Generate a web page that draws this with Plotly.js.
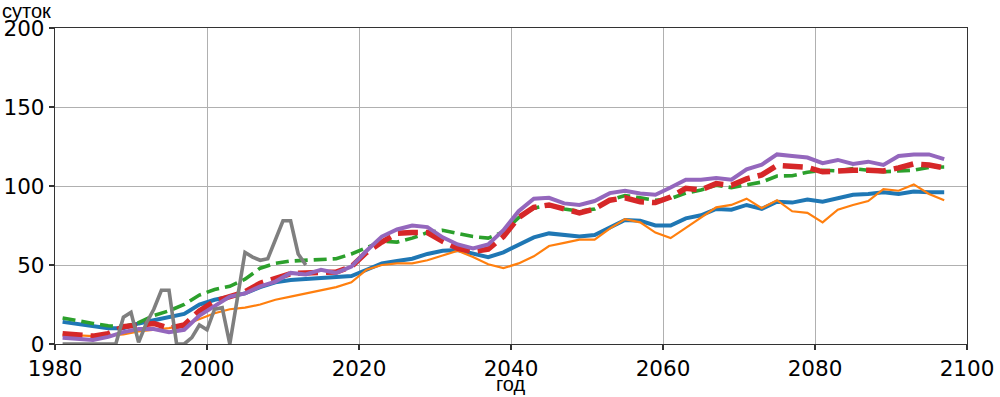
<!DOCTYPE html>
<html>
<head>
<meta charset="utf-8">
<script src="https://cdn.plot.ly/plotly-3.0.1.min.js"></script>
<style>
html,body{margin:0;padding:0;background:#fff;}
#chart{width:1000px;height:397px;}
</style>
</head>
<body>
<div id="chart"></div>
<script>
// Observed series (gray)
const obsYears = [1981,1982,1983,1984,1985,1986,1987,1988,1989,1990,1991,1992,1993,1994,1995,1996,1997,1998,1999,2000,2001,2002,2003,2004,2005,2006,2007,2008,2009,2010,2011,2012,2013];
const obsValues = [0,0,0,0,0,0,0,0,17,20,1,13,22,34,34,0,0,4,12,9,22,23,0,29,58,55,53,54,66,78,78,57,50];

// Model years (every second year)
const modelYears = [1981,1983,1985,1987,1989,1991,1993,1995,1997,1999,2001,2003,2005,2007,2009,2011,2013,2015,2017,2019,2021,2023,2025,2027,2029,2031,2033,2035,2037,2039,2041,2043,2045,2047,2049,2051,2053,2055,2057,2059,2061,2063,2065,2067,2069,2071,2073,2075,2077,2079,2081,2083,2085,2087,2089,2091,2093,2095,2097];

const blueValues = [14,12.5,11,10,10,13,15,17,19,25,28,30,32,36,39,40.5,41,42,42.5,43,47,51,52.5,54,57,59,59.5,57,55,58,63,67.5,70,69,68,69,74,78.5,78,75,75,79.5,81.5,85.5,85,88,85.5,90,89.5,91.5,90,92,94.5,95,96,95,96.5,96,96];
const orangeValues = [6,5.5,5,5.5,6,8,9,10,12,15.5,19.5,22,23,25,28,30,32,34,36,39,47,50,51,51,53,56,59,55,50.5,48,51,55.5,62,64,66,66,73,79,77,70.5,67,73.5,80,86.5,88,92,86,91,84,83,77,85,88,90.5,98,97,101,95,91];
const greenValues = [16.5,14.5,13,11.5,11,13.5,18,21,25,31,34.5,36.5,41,48,51,52.5,53,53.5,54,57,61,65,64.5,67,70.5,72,70,68,67,71,80,86,88,85.5,84,85.5,91,94,92.5,91,92,95.5,97.5,100.5,99,101,102.5,106.3,106.5,108.7,110,109.5,111,110,109,109.5,110,111.8,112];
const redValues = [6.5,5.5,5,6.5,11,12,13,10,12,21,27,30,33,38.5,41.5,44.5,45,45.5,45.5,49,58,64.5,70,70.5,70.5,65,60.5,58.5,60,68,80,86.5,88,85.5,83,85.5,91,92.5,90,89.5,93,98.5,97.5,101.5,100.5,104.5,107,113,112.8,111.8,109,109.8,110,110,109.5,111.5,114,113.3,111.5];
const purpleValues = [4,3,2.5,4.5,7.5,9.5,9.5,7.5,9,18,24,30,32,36.5,39.5,45,44,47,45,49,59,68,72.5,75,74,67.5,63,60.5,63,72,84,92,92.5,89,88,90.5,95.5,97,95.3,94.5,99,104,104,105,104,110.5,113.5,120,119,118,114.5,116.5,114,115.4,113.3,119,120,120,117];

const xTicks = [1980,2000,2020,2040,2060,2080,2100];
const yTicks = [0,50,100,150,200];
const xTitle = 'год';
const yTitle = 'суток';

const traces = [
  {x: modelYears, y: blueValues, mode:'lines', line:{color:'#1f77b4', width:4}},
  {x: modelYears, y: orangeValues, mode:'lines', line:{color:'#ff7f0e', width:2.2}},
  {x: modelYears, y: greenValues, mode:'lines', line:{color:'#2ca02c', width:3.6, dash:'13px,6px'}},
  {x: modelYears, y: redValues, mode:'lines', line:{color:'#d62728', width:5.5, dash:'20px,8px'}},
  {x: modelYears, y: purpleValues, mode:'lines', line:{color:'#9467bd', width:4}},
  {x: obsYears, y: obsValues, mode:'lines', line:{color:'#7f7f7f', width:3.6}}
];

const axisCommon = {
  showline:true, mirror:true, linecolor:'#333', linewidth:1.2,
  ticks:'outside', ticklen:5, tickwidth:1.2, tickcolor:'#333',
  showgrid:true, gridcolor:'#b0b0b0', gridwidth:1,
  zeroline:false,
  tickfont:{family:'DejaVu Sans', size:21.5, color:'#000'}
};

const layout = {
  width:1000, height:397,
  margin:{l:55, r:33, t:28, b:53},
  paper_bgcolor:'#fff', plot_bgcolor:'#fff',
  showlegend:false,
  xaxis: Object.assign({}, axisCommon, {range:[1980,2100], tickvals:xTicks, ticktext:xTicks.map(String)}),
  yaxis: Object.assign({}, axisCommon, {range:[0,200], tickvals:yTicks, ticktext:yTicks.map(String)}),
  annotations:[
    {text:yTitle, xref:'paper', yref:'paper', x:0, y:1, xanchor:'left', yanchor:'middle', xshift:-55, yshift:17, showarrow:false, font:{family:'Liberation Sans', size:20, color:'#000'}},
    {text:xTitle, xref:'paper', yref:'paper', x:0.5, y:0, xanchor:'center', yanchor:'middle', yshift:-40, showarrow:false, font:{family:'Liberation Sans', size:20, color:'#000'}}
  ]
};

Plotly.newPlot('chart', traces, layout, {staticPlot:true, displayModeBar:false});
</script>
</body>
</html>
